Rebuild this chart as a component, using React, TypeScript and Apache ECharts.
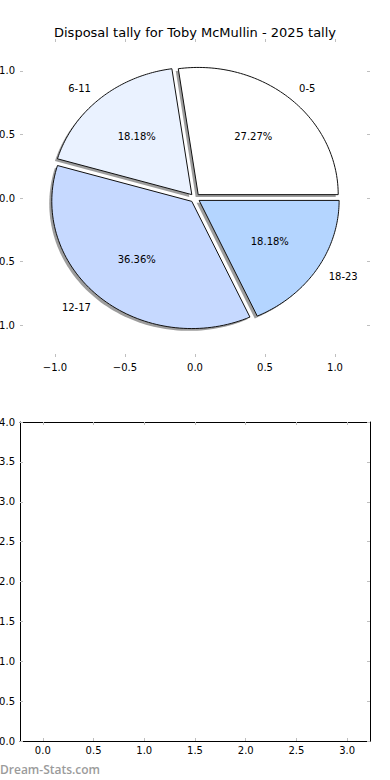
import React, { useEffect, useRef } from "react";
import * as echarts from "echarts";

const TITLE = "Disposal tally for Toby McMullin - 2025 tally";
const sliceLabels = ["0-5", "6-11", "12-17", "18-23"];
const sliceValues = [3, 2, 4, 2];
const sliceColors = ["#ffffff", "#eaf2ff", "#c6d9ff", "#b4d5ff"];
const explode = [0.035, 0.035, 0.035, 0.035];
const pieTicks = [-1, -0.5, 0, 0.5, 1];
const bottomXTicks = [0, 0.5, 1, 1.5, 2, 2.5, 3];
const WATERMARK = "Dream-Stats.com";

const FONT = "DejaVu Sans";
const TICK_GRAY = "#bfbfbf";

const fmt = (v: number) => (v < 0 ? "\u2212" : "") + Math.abs(v).toFixed(1);

const total = sliceValues.reduce((a, b) => a + b, 0);
const starts: number[] = [];
{
  let acc = 0;
  for (const v of sliceValues) {
    starts.push((acc / total) * 360);
    acc += v;
  }
}

function wedgePoints(api: any, i: number, dx: number, dy: number) {
  const a0 = (starts[i] * Math.PI) / 180;
  const a1 = ((starts[i] + (sliceValues[i] / total) * 360) * Math.PI) / 180;
  const mid = (a0 + a1) / 2;
  const cx = explode[i] * Math.cos(mid) + dx;
  const cy = explode[i] * Math.sin(mid) + dy;
  const pts: number[][] = [api.coord([cx, cy])];
  const n = 80;
  for (let k = 0; k <= n; k++) {
    const a = a0 + ((a1 - a0) * k) / n;
    pts.push(api.coord([cx + Math.cos(a), cy + Math.sin(a)]));
  }
  return { pts, cx, cy, mid };
}

export default function App() {
  const ref = useRef<HTMLDivElement>(null);
  useEffect(() => {
    if (!ref.current) return;
    const chart = echarts.init(ref.current, null, { renderer: "svg" });
    const pieData = sliceValues.map((v, i) => [0, 0, v, i]);
    const tick = (custom?: number[]) => ({
      inside: true,
      length: 3,
      lineStyle: { color: TICK_GRAY, width: 1 },
      ...(custom ? { customValues: custom } : {}),
    });
    const hiddenLine = { show: false, onZero: false };
    const frameLine = { show: true, onZero: false, lineStyle: { color: "#000", width: 1 } };
    const label = (margin: number, custom?: number[]) => ({
      formatter: fmt,
      fontFamily: FONT,
      fontSize: 10,
      color: "#000",
      margin,
      ...(custom ? { customValues: custom } : {}),
    });
    const option: any = {
      animation: false,
      backgroundColor: "#ffffff",
      title: {
        text: TITLE,
        left: "center",
        top: 21,
        textStyle: { fontFamily: FONT, fontSize: 13, fontWeight: "normal", color: "#000" },
      },
      grid: [
        { left: 20, top: 39, width: 350, height: 318, outerBoundsMode: "none", containLabel: false },
        { left: 20, top: 422, width: 350, height: 319, outerBoundsMode: "none", containLabel: false },
      ],
      xAxis: [
        {
          gridIndex: 0, type: "value", min: -1.25, max: 1.25, position: "bottom",
          axisLine: hiddenLine, splitLine: { show: false },
          axisTick: tick(pieTicks),
          axisLabel: label(5, pieTicks),
        },
        {
          gridIndex: 0, type: "value", min: -1.25, max: 1.25, position: "top",
          axisLine: hiddenLine, splitLine: { show: false },
          axisTick: tick(pieTicks),
          axisLabel: { show: false },
        },
        {
          gridIndex: 1, type: "value", min: -0.225, max: 3.225, position: "bottom",
          axisLine: frameLine, splitLine: { show: false },
          axisTick: tick(bottomXTicks),
          axisLabel: label(4, bottomXTicks),
        },
        {
          gridIndex: 1, type: "value", min: -0.225, max: 3.225, position: "top",
          axisLine: frameLine, splitLine: { show: false },
          axisTick: tick(bottomXTicks),
          axisLabel: { show: false },
        },
      ],
      yAxis: [
        {
          gridIndex: 0, type: "value", min: -1.25, max: 1.25, position: "left",
          axisLine: hiddenLine, splitLine: { show: false },
          axisTick: tick(pieTicks),
          axisLabel: label(5, pieTicks),
        },
        {
          gridIndex: 0, type: "value", min: -1.25, max: 1.25, position: "right",
          axisLine: hiddenLine, splitLine: { show: false },
          axisTick: tick(pieTicks),
          axisLabel: { show: false },
        },
        {
          gridIndex: 1, type: "value", min: 0, max: 4, interval: 0.5, position: "left",
          axisLine: frameLine, splitLine: { show: false },
          axisTick: tick(),
          axisLabel: label(5),
        },
        {
          gridIndex: 1, type: "value", min: 0, max: 4, interval: 0.5, position: "right",
          axisLine: frameLine, splitLine: { show: false },
          axisTick: tick(),
          axisLabel: { show: false },
        },
      ],
      series: [
        {
          type: "custom",
          name: "shadow",
          xAxisIndex: 0, yAxisIndex: 0,
          clip: false,
          z: 1,
          data: pieData,
          encode: { x: 0, y: 1 },
          renderItem: (params: any, api: any) => {
            const i = params.dataIndex;
            const { pts } = wedgePoints(api, i, -0.018, -0.018);
            return {
              type: "polygon",
              shape: { points: pts },
              style: { fill: "rgba(60,60,60,0.5)", stroke: "none" },
            };
          },
        },
        {
          type: "custom",
          name: "wedges",
          xAxisIndex: 0, yAxisIndex: 0,
          clip: false,
          z: 2,
          data: pieData,
          encode: { x: 0, y: 1 },
          renderItem: (params: any, api: any) => {
            const i = params.dataIndex;
            const { pts, cx, cy, mid } = wedgePoints(api, i, 0, 0);
            const lp = api.coord([cx + 1.1 * Math.cos(mid), cy + 1.1 * Math.sin(mid)]);
            const pp = api.coord([cx + 0.6 * Math.cos(mid), cy + 0.6 * Math.sin(mid)]);
            const pct = ((sliceValues[i] / total) * 100).toFixed(2) + "%";
            return {
              type: "group",
              children: [
                {
                  type: "polygon",
                  shape: { points: pts },
                  style: { fill: sliceColors[i], stroke: "#111", lineWidth: 1, lineJoin: "miter" },
                },
                {
                  type: "text",
                  x: lp[0], y: lp[1],
                  style: {
                    text: sliceLabels[i],
                    fontFamily: FONT, fontSize: 10, fill: "#000",
                    align: Math.cos(mid) > 0 ? "left" : "right",
                    verticalAlign: "middle",
                  },
                },
                {
                  type: "text",
                  x: pp[0], y: pp[1],
                  style: {
                    text: pct,
                    fontFamily: FONT, fontSize: 10, fill: "#000",
                    align: "center",
                    verticalAlign: "middle",
                  },
                },
              ],
            };
          },
        },
      ],
      graphic: [
        {
          type: "text",
          left: 0,
          top: 763,
          style: {
            text: WATERMARK,
            fontFamily: "Open Sans",
            fontSize: 12,
            fontWeight: 600,
            fill: "#9b9b9b",
          },
        },
      ],
    };
    chart.setOption(option);
    return () => chart.dispose();
  }, []);
  return (
    <div
      ref={ref}
      style={{ position: "fixed", left: 0, top: 0, width: 390, height: 780, background: "#fff" }}
    />
  );
}
